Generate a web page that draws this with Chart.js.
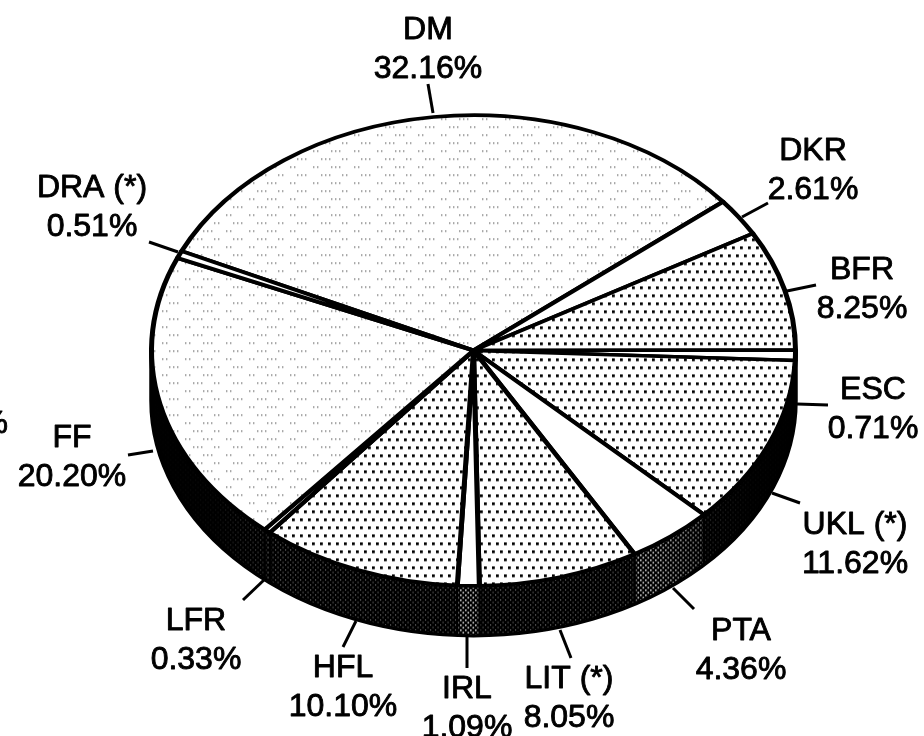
<!DOCTYPE html>
<html>
<head>
<meta charset="utf-8">
<style>html,body{margin:0;padding:0;background:#fff;overflow:hidden}canvas{display:block}</style>
<script src="https://cdn.jsdelivr.net/npm/chart.js@4"></script>
</head>
<body>
<canvas id="c" width="924" height="736"></canvas>
<script>
const categories = ['DM','DKR','BFR','ESC','UKL (*)','PTA','LIT (*)','IRL','HFL','LFR','FF','DRA (*)'];
const shares = [32.16,2.61,8.25,0.71,11.62,4.36,8.05,1.09,10.10,0.33,20.20,0.51];
const shareLabels = ['32.16%','2.61%','8.25%','0.71%','11.62%','4.36%','8.05%','1.09%','10.10%','0.33%','20.20%','0.51%'];

const topStyle  = ['sparse','white','dots','white','dots','white','dots','white','dots','white','sparse','white'];
const sideStyle = ['dark','dark','dark','black','dark','light','dark','light','dark','mid','dark','dark'];
const labelCenters = [[428,27],[813,148],[862,267],[873,387],[855,522],[741,628],[569,676],[467,686],[343,665],[196,618],[72,435],[92,185]];
const lineGap = 39;
const leaderEnds = [[428,84],[768,203],[816,285],[828,405],[800,503],[694,609],[571,658],[467,668],[343,647],[243,600],[128,455],[149,242]];
const leaderStarts = [[433,113],[742,217],[787,291],[797,404],[772,493],[673,588],[560,630],[467,636],[356,621],[265,579],[153,451],[178,252]];

const SQUASH = 236/323, DEPTH = 50;

function tile(w,h,draw,bg){
  const t=document.createElement('canvas');t.width=w;t.height=h;
  const g=t.getContext('2d');
  if(bg){g.fillStyle=bg;g.fillRect(0,0,w,h);}
  draw(g);
  return t;
}
function squashed(t){
  const p=document.createElement('canvas').getContext('2d').createPattern(t,'repeat');
  p.setTransform(new DOMMatrix().scale(1,1/SQUASH));
  return p;
}
const tops={
  white:'#fff',
  dots:squashed(tile(16,16,g=>{
    g.fillStyle='#000';
    g.fillRect(0,0,2.8,2.8);g.fillRect(8,0,2.8,2.8);
    g.fillRect(4,8,2.8,2.8);g.fillRect(12,8,2.8,2.8);
  },'#fff')),
  sparse:squashed(tile(64,16,g=>{
    g.fillStyle='#777';
    [[1,0],[5,0],[9,0],[22,0],[26,0],[41,0],[45,0],[49,0],
     [11,8],[15,8],[19,8],[34,8],[38,8],[57,8],[61,8]].forEach(d=>g.fillRect(d[0],d[1],1.4,1.4));
  },'#fff'))
};
function sideTile(size,alpha){
  return tile(5,5,g=>{
    g.fillStyle='rgba(255,255,255,'+alpha+')';
    g.fillRect(0,0,size,size);g.fillRect(2.5,2.5,size,size);
  },'#000');
}
const sides={
  black:'#000',
  dark:squashed(sideTile(1.1,.5)),
  mid:squashed(sideTile(1.3,.6)),
  light:squashed(sideTile(1.6,.85))
};

const pieSkew={
  id:'pieSkew',
  beforeDatasetsDraw(chart){
    const ctx=chart.ctx, arcs=chart.getDatasetMeta(0).data, a0=arcs[0];
    const cx=a0.x, cy=a0.y, r=a0.outerRadius;
    ctx.save();
    ctx.translate(cx,cy);ctx.scale(1,SQUASH);ctx.translate(-cx,-cy);
    const D=DEPTH/SQUASH;
    arcs.forEach((arc,i)=>{
      const T=2*Math.PI;
      let s=arc.startAngle%T, e=arc.endAngle%T;
      if(s<0)s+=T; if(e<0)e+=T; if(e<s)e+=T;
      [[s,e],[s-T,e-T]].forEach(([a,b])=>{
        const lo=Math.max(a,0), hi=Math.min(b,Math.PI);
        if(hi<=lo)return;
        ctx.beginPath();
        ctx.arc(cx,cy,r,lo,hi);
        ctx.arc(cx,cy+D,r,hi,lo,true);
        ctx.closePath();
        ctx.fillStyle=sides[sideStyle[i]];
        ctx.fill();
        ctx.lineWidth=2;ctx.strokeStyle='#000';ctx.stroke();
      });
    });
    // darkening of the rim towards its two ends
    const g=ctx.createLinearGradient(cx-r,0,cx+r,0);
    g.addColorStop(0,'rgba(0,0,0,1)');g.addColorStop(.1,'rgba(0,0,0,.85)');g.addColorStop(.2,'rgba(0,0,0,0)');
    g.addColorStop(.78,'rgba(0,0,0,0)');g.addColorStop(.93,'rgba(0,0,0,.9)');g.addColorStop(1,'rgba(0,0,0,1)');
    ctx.beginPath();
    ctx.arc(cx,cy,r,0,Math.PI);
    ctx.arc(cx,cy+D,r,Math.PI,0,true);
    ctx.closePath();
    ctx.fillStyle=g;ctx.fill();
    ctx.lineWidth=4.5;ctx.strokeStyle='#000';ctx.stroke();
  },
  afterDatasetsDraw(chart){
    chart.ctx.restore();
  },
  afterDraw(chart){
    const ctx=chart.ctx;
    ctx.save();
    ctx.strokeStyle='#000';ctx.lineWidth=3;
    leaderEnds.forEach((p,i)=>{
      ctx.beginPath();ctx.moveTo(leaderStarts[i][0],leaderStarts[i][1]);ctx.lineTo(p[0],p[1]);ctx.stroke();
    });
    ctx.font='32px "Liberation Sans", Arial, sans-serif';
    ctx.textAlign='center';ctx.textBaseline='alphabetic';
    ctx.fillStyle='#000';ctx.strokeStyle='#000';ctx.lineWidth=.9;ctx.lineJoin='round';
    const put=(t,x,y)=>{ctx.fillText(t,x,y);ctx.strokeText(t,x,y);};
    categories.forEach((c,i)=>{
      const [x,y]=labelCenters[i];
      put(c,x,y+11.5);put(shareLabels[i],x,y+lineGap+11.5);
    });
    ctx.textAlign='right';
    put('%',8,433);
    ctx.restore();
  }
};

new Chart(document.getElementById('c'),{
  type:'pie',
  data:{labels:categories,datasets:[{
    data:shares,
    backgroundColor:topStyle.map(k=>tops[k]),
    borderColor:'#000',borderWidth:5,borderJoinStyle:'round',
    hoverOffset:0,clip:false
  }]},
  options:{
    responsive:false,animation:false,rotation:-65,
    layout:{padding:{left:149,right:126,top:26,bottom:61}},
    plugins:{legend:{display:false},tooltip:{enabled:false}},
    events:[]
  },
  plugins:[pieSkew]
});
</script>
</body>
</html>
